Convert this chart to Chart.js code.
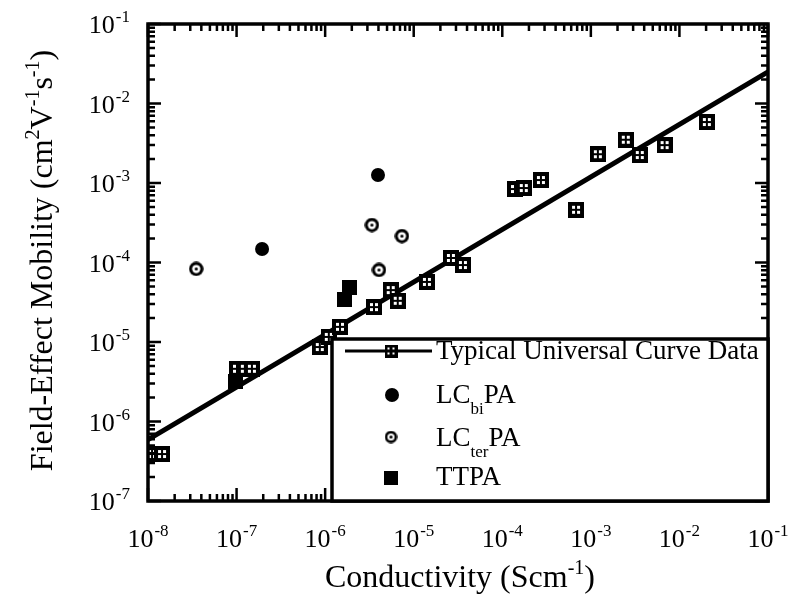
<!DOCTYPE html>
<html>
<head>
<meta charset="utf-8">
<script src="https://cdn.jsdelivr.net/npm/chart.js@4.4.1/dist/chart.umd.min.js"></script>
<style>
    html, body { margin: 0; padding: 0; background: #fff; }
    #wrap { width: 794px; height: 595px; }
</style>
</head>
<body>
<div id="wrap"><canvas id="chart" width="794" height="595"></canvas></div>
<script>
// Typical universal curve data (conductivity in S/cm, mobility in cm2/Vs)
const universalX = [1.11e-8, 1.44e-8, 1.01e-7, 1.24e-7, 1.49e-7, 8.7e-7, 1.10e-6, 1.47e-6, 3.56e-6, 5.5e-6, 6.6e-6,
    1.41e-5, 2.63e-5, 3.59e-5, 1.39e-4, 1.75e-4, 2.73e-4, 6.8e-4, 1.2e-3, 2.48e-3, 3.57e-3, 6.8e-3, 2.04e-2];
const universalY = [3.9e-7, 3.9e-7, 4.6e-6, 4.6e-6, 4.6e-6, 8.65e-6, 1.16e-5, 1.55e-5, 2.75e-5, 4.5e-5, 3.3e-5,
    5.7e-5, 1.14e-4, 9.3e-5, 8.4e-4, 8.65e-4, 1.09e-3, 4.6e-4, 2.3e-3, 3.5e-3, 2.25e-3, 3.0e-3, 5.85e-3];

// Universal curve (straight line on log-log axes)
const curveX = [1e-8, 1e-1];
const curveY = [5.9e-7, 2.5e-2];

// LCbiPA
const lcbiX = [1.94e-7, 3.95e-6];
const lcbiY = [1.48e-4, 1.26e-3];

// LCterPA
const lcterX = [3.5e-8, 3.37e-6, 7.36e-6, 4.05e-6];
const lcterY = [8.3e-5, 2.96e-4, 2.15e-4, 8.05e-5];

// TTPA
const ttpaX = [9.7e-8, 1.86e-6, 1.67e-6];
const ttpaY = [3.2e-6, 4.9e-5, 3.47e-5];

// Tick labels (powers of ten)
const xTickExps = ['-8', '-7', '-6', '-5', '-4', '-3', '-2', '-1'];
const yTickExps = ['-7', '-6', '-5', '-4', '-3', '-2', '-1'];

const SERIF = '"Liberation Serif", "Times New Roman", serif';

function toPoints(xs, ys) {
    return xs.map((x, i) => ({ x: x, y: ys[i] }));
}

// Black square with four little windows
function makeGridSquare(size) {
    const c = document.createElement('canvas');
    c.width = size;
    c.height = size;
    const g = c.getContext('2d');
    g.fillStyle = '#000';
    g.fillRect(0, 0, size, size);
    g.fillStyle = '#fff';
    const b = Math.round(size * 0.25);
    const h = Math.round(size * 0.19);
    const far = size - b - h;
    g.fillRect(b, b, h, h);
    g.fillRect(far, b, h, h);
    g.fillRect(b, far, h, h);
    g.fillRect(far, far, h, h);
    return c;
}

// Ring with a dot in the middle
function makeTarget(size) {
    const c = document.createElement('canvas');
    c.width = size;
    c.height = size;
    const g = c.getContext('2d');
    const r = size / 2;
    g.fillStyle = '#000';
    g.beginPath();
    g.arc(r, r, r - 0.3, 0, Math.PI * 2);
    g.fill();
    g.fillStyle = '#fff';
    g.beginPath();
    g.arc(r, r, r * 0.55, 0, Math.PI * 2);
    g.fill();
    g.fillStyle = '#000';
    g.beginPath();
    g.arc(r, r, 1.6, 0, Math.PI * 2);
    g.fill();
    return c;
}

function makeFilledSquare(size) {
    const c = document.createElement('canvas');
    c.width = size;
    c.height = size;
    const g = c.getContext('2d');
    g.fillStyle = '#000';
    g.fillRect(0, 0, size, size);
    return c;
}

const gridMarker = makeGridSquare(16);
const targetMarker = makeTarget(15);
const squareMarker = makeFilledSquare(15);

// Draws "10" with a superscript exponent; y is the baseline of "10"
function drawPower(ctx, exp, x, y, align) {
    ctx.font = '26px ' + SERIF;
    const wb = ctx.measureText('10').width;
    ctx.font = '17px ' + SERIF;
    const ws = ctx.measureText(exp).width;
    const total = wb + 1 + ws;
    let start = x - total / 2;
    if (align === 'right') start = x - total;
    ctx.textAlign = 'left';
    ctx.textBaseline = 'alphabetic';
    ctx.font = '26px ' + SERIF;
    ctx.fillText('10', start, y);
    ctx.font = '17px ' + SERIF;
    ctx.fillText(exp, start + wb + 1, y - 11);
}

// Draws a run of text pieces with super/subscripts
function drawRich(ctx, parts, x, y, size, small, align) {
    const widths = parts.map(p => {
        ctx.font = (p.s || p.b ? small : size) + 'px ' + SERIF;
        return ctx.measureText(p.t).width;
    });
    const total = widths.reduce((a, b) => a + b, 0);
    let cx = align === 'center' ? x - total / 2 : x;
    ctx.textAlign = 'left';
    ctx.textBaseline = 'alphabetic';
    parts.forEach((p, i) => {
        ctx.font = (p.s || p.b ? small : size) + 'px ' + SERIF;
        let dy = 0;
        if (p.s) dy = -Math.round(size * 0.42);
        if (p.b) dy = Math.round(size * 0.42);
        ctx.fillText(p.t, cx, y + dy);
        cx += widths[i];
    });
}

const framePlugin = {
    id: 'frameTicks',
    afterDatasetsDraw(chart) {
        const { ctx, chartArea: a, scales: { x, y } } = chart;
        ctx.save();
        ctx.strokeStyle = '#000';
        ctx.fillStyle = '#000';

        // ticks on all four sides, pointing inward
        ctx.lineWidth = 2.5;
        ctx.beginPath();
        const xDec = xTickExps.map(Number);
        xDec.forEach((e, i) => {
            for (let m = 1; m < 10; m++) {
                if (m > 1 && i === xDec.length - 1) break;
                const px = x.getPixelForValue(m * Math.pow(10, e));
                const len = m === 1 ? 13 : 7;
                ctx.moveTo(px, a.bottom);
                ctx.lineTo(px, a.bottom - len);
                ctx.moveTo(px, a.top);
                ctx.lineTo(px, a.top + len);
            }
        });
        const yDec = yTickExps.map(Number);
        yDec.forEach((e, i) => {
            for (let m = 1; m < 10; m++) {
                if (m > 1 && i === yDec.length - 1) break;
                const py = y.getPixelForValue(m * Math.pow(10, e));
                const len = m === 1 ? 13 : 7;
                ctx.moveTo(a.left, py);
                ctx.lineTo(a.left + len, py);
                ctx.moveTo(a.right, py);
                ctx.lineTo(a.right - len, py);
            }
        });
        ctx.stroke();

        ctx.lineWidth = 3.5;
        ctx.strokeRect(a.left, a.top, a.right - a.left, a.bottom - a.top);

        // tick labels
        xTickExps.forEach(e => {
            const px = x.getPixelForValue(Math.pow(10, Number(e)));
            drawPower(ctx, e, px, 547, 'center');
        });
        yTickExps.forEach(e => {
            const py = y.getPixelForValue(Math.pow(10, Number(e)));
            drawPower(ctx, e, 130, py + 9, 'right');
        });

        // axis titles
        drawRich(ctx, [{ t: 'Conductivity (Scm' }, { t: '-1', s: true }, { t: ')' }],
            (a.left + a.right) / 2 + 2, 587, 32, 20, 'center');
        ctx.save();
        ctx.translate(52, (a.top + a.bottom) / 2 - 2);
        ctx.rotate(-Math.PI / 2);
        drawRich(ctx, [{ t: 'Field-Effect Mobility (cm' }, { t: '2', s: true }, { t: 'V' }, { t: '-1', s: true },
            { t: 's' }, { t: '-1', s: true }, { t: ')' }], 0, 0, 32, 20, 'center');
        ctx.restore();

        // legend box inside the plot, lower right
        const lx = 332, ly = 339;
        ctx.fillStyle = '#fff';
        ctx.fillRect(lx, ly, a.right - lx, a.bottom - ly);
        ctx.lineWidth = 3.5;
        ctx.strokeRect(lx, ly, a.right - lx, a.bottom - ly);
        ctx.fillStyle = '#000';

        ctx.lineWidth = 3;
        ctx.beginPath();
        ctx.moveTo(345, 351);
        ctx.lineTo(432, 351);
        ctx.stroke();
        ctx.drawImage(makeGridSquare(13), 391 - 6.5, 351 - 6.5);
        drawRich(ctx, [{ t: 'Typical Universal Curve Data' }], 436, 359, 27, 17, 'left');

        ctx.beginPath();
        ctx.arc(392, 395, 7, 0, Math.PI * 2);
        ctx.fill();
        drawRich(ctx, [{ t: 'LC' }, { t: 'bi', b: true }, { t: 'PA' }], 436, 403, 27, 17, 'left');

        ctx.drawImage(makeTarget(13), 391 - 6.5, 437 - 6.5);
        drawRich(ctx, [{ t: 'LC' }, { t: 'ter', b: true }, { t: 'PA' }], 436, 446, 27, 17, 'left');

        ctx.fillRect(384, 471, 14, 14);
        drawRich(ctx, [{ t: 'TTPA' }], 436, 485, 27, 17, 'left');

        ctx.restore();
    }
};

new Chart(document.getElementById('chart'), {
    type: 'scatter',
    data: {
        datasets: [
            {
                label: 'Typical Universal Curve Data',
                data: toPoints(universalX, universalY),
                pointStyle: gridMarker,
                pointRadius: 8,
                order: 1
            },
            {
                label: 'LCbiPA',
                data: toPoints(lcbiX, lcbiY),
                pointStyle: 'circle',
                pointRadius: 7,
                backgroundColor: '#000',
                borderColor: '#000',
                borderWidth: 0,
                order: 1
            },
            {
                label: 'LCterPA',
                data: toPoints(lcterX, lcterY),
                pointStyle: targetMarker,
                pointRadius: 7,
                order: 1
            },
            {
                label: 'TTPA',
                data: toPoints(ttpaX, ttpaY),
                pointStyle: squareMarker,
                pointRadius: 7,
                order: 1
            },
            {
                type: 'line',
                label: 'fit',
                data: toPoints(curveX, curveY),
                borderColor: '#000',
                borderWidth: 5,
                pointRadius: 0,
                showLine: true,
                order: 5
            }
        ]
    },
    options: {
        responsive: false,
        animation: false,
        layout: { padding: { left: 148, right: 26, top: 24, bottom: 94 } },
        scales: {
            x: { type: 'logarithmic', min: 1e-8, max: 1e-1, display: false },
            y: { type: 'logarithmic', min: 1e-7, max: 1e-1, display: false }
        },
        plugins: {
            legend: { display: false },
            tooltip: { enabled: false }
        }
    },
    plugins: [framePlugin]
});
</script>
</body>
</html>
